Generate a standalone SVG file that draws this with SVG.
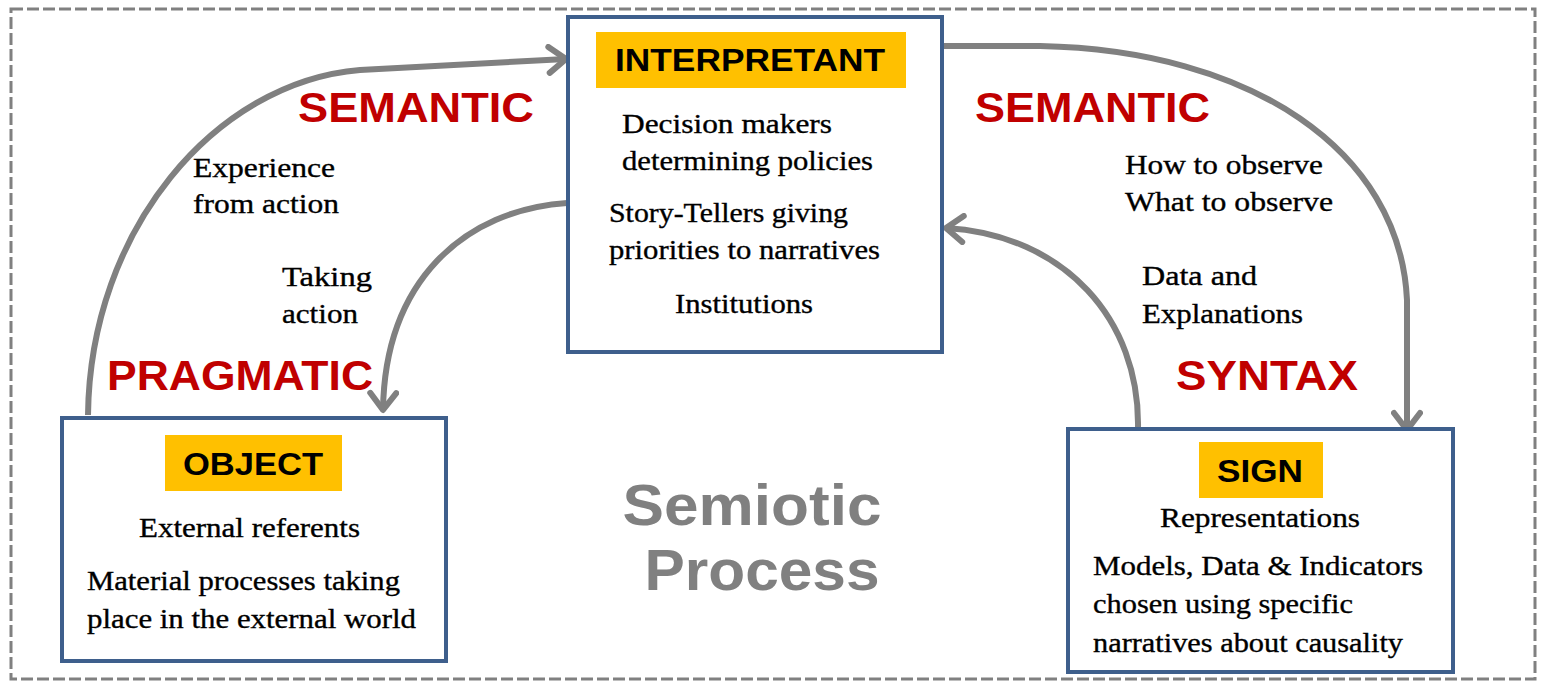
<svg xmlns="http://www.w3.org/2000/svg" width="1543" height="685" viewBox="0 0 1543 685">
<style>
.box{fill:#fff;stroke:#3E5F8C;stroke-width:4}
.lab{fill:#FFC000}
.labt{font-family:"Liberation Sans",Arial,sans-serif;font-weight:bold;font-size:31px;fill:#000;text-anchor:middle}
.txt{font-family:"Liberation Serif","Times New Roman",serif;font-size:27px;fill:#000;stroke:#000;stroke-width:0.35}
.red{font-family:"Liberation Sans",Arial,sans-serif;font-weight:bold;font-size:43px;fill:#C00000}
.conn{fill:none;stroke:#808080;stroke-width:6;marker-end:url(#arr)}
.title{font-family:"Liberation Sans",Arial,sans-serif;font-weight:bold;font-size:57px;fill:#808080;text-anchor:middle}
</style>
<defs>
<marker id="arr" markerUnits="userSpaceOnUse" markerWidth="32" markerHeight="32" viewBox="0 0 32 32" refX="25" refY="16" orient="auto">
<path d="M8,3 L25,16 L8,29" fill="none" stroke="#808080" stroke-width="6" stroke-linecap="round" stroke-linejoin="round"/>
</marker>
</defs>
<rect x="11" y="9" width="1524" height="670" fill="#fff" stroke="#808080" stroke-width="3" stroke-dasharray="12 4"/>
<g id="connectors">
<path class="conn" d="M88 415 C90 230 215 82 360 70 L566 59"/>
<path class="conn" d="M567 203 C465 210 385 280 383 410"/>
<path class="conn" d="M942 46 L1040 46 C1250 50 1400 150 1407 300 L1407 430"/>
<path class="conn" d="M1138 428 C1140 320 1065 235 946 228"/>
</g>
<g id="interpretant">
<rect class="box" x="568" y="17" width="374" height="335"/>
<rect class="lab" x="596" y="32" width="310" height="56"/>
<text class="labt" x="750" y="71" font-size="33" textLength="270" lengthAdjust="spacingAndGlyphs">INTERPRETANT</text>
<text class="txt" x="622" y="133" textLength="210" lengthAdjust="spacingAndGlyphs">Decision makers</text>
<text class="txt" x="622" y="170" textLength="251" lengthAdjust="spacingAndGlyphs">determining policies</text>
<text class="txt" x="609" y="222" textLength="239" lengthAdjust="spacingAndGlyphs">Story-Tellers giving</text>
<text class="txt" x="609" y="259" textLength="271" lengthAdjust="spacingAndGlyphs">priorities to narratives</text>
<text class="txt" x="675" y="313" textLength="138" lengthAdjust="spacingAndGlyphs">Institutions</text>
</g>
<g id="object">
<rect class="box" x="62" y="418" width="384" height="243"/>
<rect class="lab" x="165" y="435" width="177" height="56"/>
<text class="labt" x="253" y="475" textLength="140" lengthAdjust="spacingAndGlyphs">OBJECT</text>
<text class="txt" x="139" y="537" textLength="221" lengthAdjust="spacingAndGlyphs">External referents</text>
<text class="txt" x="87" y="590" textLength="313" lengthAdjust="spacingAndGlyphs">Material processes taking</text>
<text class="txt" x="87" y="628" textLength="329" lengthAdjust="spacingAndGlyphs">place in the external world</text>
</g>
<g id="sign">
<rect class="box" x="1068" y="429" width="385" height="243"/>
<rect class="lab" x="1199" y="442" width="124" height="56"/>
<text class="labt" x="1260" y="482" textLength="86" lengthAdjust="spacingAndGlyphs">SIGN</text>
<text class="txt" x="1160" y="527" textLength="200" lengthAdjust="spacingAndGlyphs">Representations</text>
<text class="txt" x="1093" y="575" textLength="330" lengthAdjust="spacingAndGlyphs">Models, Data &amp; Indicators</text>
<text class="txt" x="1093" y="613" textLength="260" lengthAdjust="spacingAndGlyphs">chosen using specific</text>
<text class="txt" x="1093" y="652" textLength="310" lengthAdjust="spacingAndGlyphs">narratives about causality</text>
</g>
<g id="labels">
<text class="red" x="298" y="122" textLength="236" lengthAdjust="spacingAndGlyphs">SEMANTIC</text>
<text class="red" x="975" y="122" textLength="235" lengthAdjust="spacingAndGlyphs">SEMANTIC</text>
<text class="red" x="107" y="390" textLength="266" lengthAdjust="spacingAndGlyphs">PRAGMATIC</text>
<text class="red" x="1176" y="390" textLength="182" lengthAdjust="spacingAndGlyphs">SYNTAX</text>
<text class="txt" x="193" y="177" textLength="142" lengthAdjust="spacingAndGlyphs">Experience</text>
<text class="txt" x="193" y="213" textLength="146" lengthAdjust="spacingAndGlyphs">from action</text>
<text class="txt" x="282" y="286" textLength="90" lengthAdjust="spacingAndGlyphs">Taking</text>
<text class="txt" x="282" y="323" textLength="76" lengthAdjust="spacingAndGlyphs">action</text>
<text class="txt" x="1125" y="174" textLength="198" lengthAdjust="spacingAndGlyphs">How to observe</text>
<text class="txt" x="1125" y="211" textLength="208" lengthAdjust="spacingAndGlyphs">What to observe</text>
<text class="txt" x="1142" y="285" textLength="115" lengthAdjust="spacingAndGlyphs">Data and</text>
<text class="txt" x="1142" y="323" textLength="161" lengthAdjust="spacingAndGlyphs">Explanations</text>
<text class="title" x="752" y="525" textLength="259" lengthAdjust="spacingAndGlyphs">Semiotic</text>
<text class="title" x="762" y="590" textLength="235" lengthAdjust="spacingAndGlyphs">Process</text>
</g>
</svg>
